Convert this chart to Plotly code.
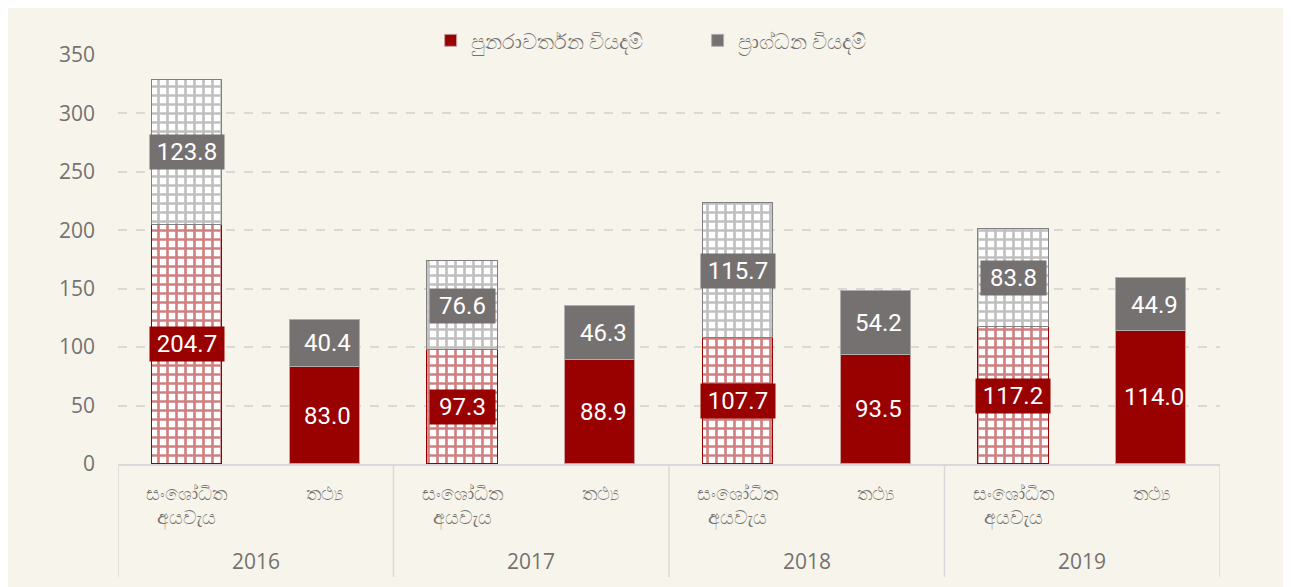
import plotly.graph_objects as go

years = ["2016", "2017", "2018", "2019"]
sub_labels = ["සංශෝධිත<br>අයවැය", "තථ්‍ය"]
series_names = ["පුනරාවර්තන වියදම්", "ප්‍රාග්ධන වියදම්"]

revised_recurrent = [204.7, 97.3, 107.7, 117.2]
revised_capital = [123.8, 76.6, 115.7, 83.8]
actual_recurrent = [83.0, 88.9, 93.5, 114.0]
actual_capital = [40.4, 46.3, 54.2, 44.9]

y_ticks = [0, 50, 100, 150, 200, 250, 300, 350]

RED = "#990000"
GRAY = "#767171"
BG = "#f7f5eb"
GRID = "#d9d9d9"
TXT = "#767171"

n = len(years)
x_rev = [2 * i for i in range(n)]
x_act = [2 * i + 1 for i in range(n)]

fig = go.Figure()
bw = 0.51

fig.add_trace(go.Bar(
    x=x_rev, y=revised_recurrent, width=bw, showlegend=False,
    marker=dict(color=RED, line=dict(color=RED, width=1.2),
                pattern=dict(shape="+", fgcolor="#a00000", bgcolor="white", size=9, solidity=0.5)),
    hoverinfo="y"))
fig.add_trace(go.Bar(
    x=x_rev, y=revised_capital, width=bw, showlegend=False,
    marker=dict(color=GRAY, line=dict(color="#808080", width=1.2),
                pattern=dict(shape="+", fgcolor="#7f7f7f", bgcolor="white", size=9, solidity=0.5)),
    hoverinfo="y"))
fig.add_trace(go.Bar(
    x=x_act, y=actual_recurrent, width=bw, name=series_names[0],
    marker=dict(color=RED, line=dict(color="#c9a0a0", width=1)), hoverinfo="y"))
fig.add_trace(go.Bar(
    x=x_act, y=actual_capital, width=bw, name=series_names[1],
    marker=dict(color=GRAY, line=dict(color="#b0adad", width=1)), hoverinfo="y"))

annotations = []
label_font = dict(family="Roboto, Noto Sans, sans-serif", size=24, color="white")


def box_w(s):
    return 9 * len(s) + 23


for i in range(n):
    r, c = revised_recurrent[i], revised_capital[i]
    t1, t2 = f"{r:.1f}", f"{c:.1f}"
    annotations.append(dict(x=x_rev[i], y=r / 2, xref="x", yref="y", text=t1, width=box_w(t1),
                            showarrow=False, font=label_font, bgcolor=RED, borderpad=3))
    annotations.append(dict(x=x_rev[i], y=r + c / 2, xref="x", yref="y", text=t2, width=box_w(t2),
                            showarrow=False, font=label_font, bgcolor=GRAY, borderpad=3))
    ar, ac = actual_recurrent[i], actual_capital[i]
    annotations.append(dict(x=x_act[i], y=ar / 2, xref="x", yref="y", text=f"{ar:.1f}",
                            showarrow=False, font=label_font, xshift=3))
    annotations.append(dict(x=x_act[i], y=ar + ac / 2, xref="x", yref="y", text=f"{ac:.1f}",
                            showarrow=False, font=label_font, xshift=3))
    annotations.append(dict(x=2 * i + 0.5, y=-0.237, xref="x", yref="paper", text=years[i],
                            showarrow=False, yanchor="middle",
                            font=dict(family="Open Sans, Noto Sans, sans-serif", size=21, color=TXT)))

shapes = []
for k in range(n + 1):
    xv = 2 * k - 0.5
    shapes.append(dict(type="line", xref="x", yref="paper", x0=xv, x1=xv, y0=0, y1=-0.276,
                       line=dict(color=GRID, width=1.5)))

fig.update_layout(
    barmode="stack",
    width=1283, height=579,
    paper_bgcolor=BG, plot_bgcolor=BG,
    margin=dict(l=110, r=71, t=47, b=123),
    font=dict(family="Open Sans, Noto Sans, sans-serif", color=TXT),
    legend=dict(orientation="h", x=0.526, xanchor="center", y=1.035, yanchor="middle",
                font=dict(size=21, color=TXT), bgcolor="rgba(0,0,0,0)", entrywidth=222,
                itemwidth=30, traceorder="normal"),
    annotations=annotations,
    shapes=shapes,
    bargap=0,
)
fig.update_xaxes(
    range=[-0.5, 2 * n - 0.5],
    tickvals=x_rev + x_act,
    ticktext=[sub_labels[0]] * n + [sub_labels[1]] * n,
    tickfont=dict(size=19, color=TXT),
    showline=True, linecolor=GRID, linewidth=1.5,
    showgrid=False, zeroline=False, ticks="", ticklabelstandoff=11,
)
fig.update_yaxes(
    range=[0, 350], tickvals=y_ticks,
    tickfont=dict(size=21, color=TXT),
    showgrid=True, gridcolor=GRID, griddash="dash", gridwidth=1.5,
    zeroline=False, showline=False, ticks="", ticklabelstandoff=22,
)

fig.write_html("out.html")
